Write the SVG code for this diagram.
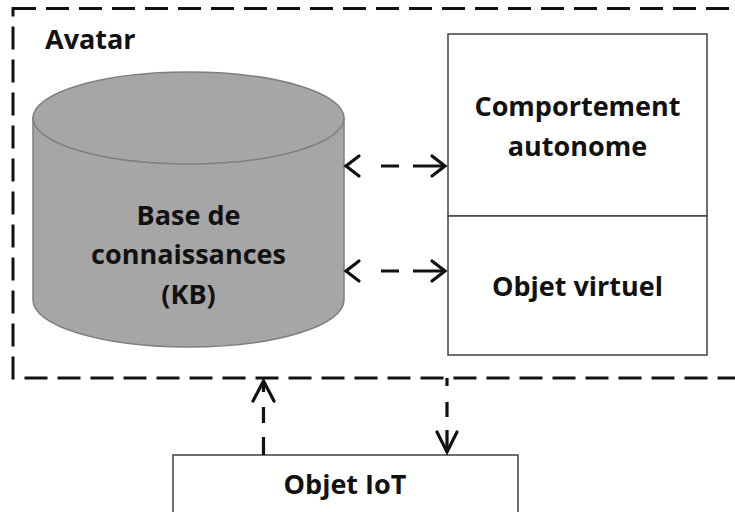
<svg xmlns="http://www.w3.org/2000/svg" width="735" height="512" viewBox="0 0 735 512">
<style>
.t{font-family:"Open Sans","Noto Sans","DejaVu Sans",sans-serif;font-weight:700;fill:#111;text-anchor:middle;font-size:27px}
.box{fill:#fff;stroke:#404040;stroke-width:1.5}
.dash{fill:none;stroke:#111;stroke-width:3;stroke-dasharray:23 10}
.head{fill:none;stroke:#111;stroke-width:3.2;stroke-linecap:round;stroke-linejoin:miter}
.line{fill:none;stroke:#111;stroke-width:3.2}
</style>
<rect width="735" height="512" fill="#fff"/>
<g id="avatar">
<rect class="dash" x="13" y="8.5" width="740" height="369.5"/>
<text class="t" x="45" y="49" style="text-anchor:start">Avatar</text>
</g>
<g id="kb">
<path d="M33,118 L33,300 A155.5,47 0 0 0 344,300 L344,118 Z" fill="#a6a6a6" stroke="#7f7f7f" stroke-width="1.5"/>
<ellipse cx="188.5" cy="118" rx="155.5" ry="46" fill="#a6a6a6" stroke="#7f7f7f" stroke-width="1.5"/>
<text class="t" x="188.5" y="225">Base de</text>
<text class="t" x="188.5" y="264">connaissances</text>
<text class="t" x="188.5" y="304">(KB)</text>
</g>
<g id="comportement">
<rect class="box" x="448" y="34" width="259" height="182"/>
<text class="t" x="577.5" y="116">Comportement</text>
<text class="t" x="577.5" y="156">autonome</text>
</g>
<g id="objet-virtuel">
<rect class="box" x="448" y="216" width="259" height="139"/>
<text class="t" x="577.5" y="296">Objet virtuel</text>
</g>
<g id="objet-iot">
<rect class="box" x="173" y="455" width="345" height="70"/>
<text class="t" x="345" y="494">Objet IoT</text>
</g>
<g id="connectors">
<path class="head" d="M359,156 L346,166 L359,176"/>
<path class="head" d="M432,156 L445,166 L432,176"/>
<path class="line" d="M381,166 H399 M413,166 H444"/>
<path class="head" d="M359,261 L346,271 L359,281"/>
<path class="head" d="M432,261 L445,271 L432,281"/>
<path class="line" d="M381,271 H399 M413,271 H444"/>
<path class="head" d="M253,401 L263.5,381 L274,401"/>
<path class="line" d="M263.5,382 V392 M263.5,407 V423 M263.5,437 V455"/>
<path class="head" d="M437,432 L447,452 L457,432"/>
<path class="line" d="M447,378 V386 M447,402 V417 M447,430 V452"/>
</g>
</svg>
